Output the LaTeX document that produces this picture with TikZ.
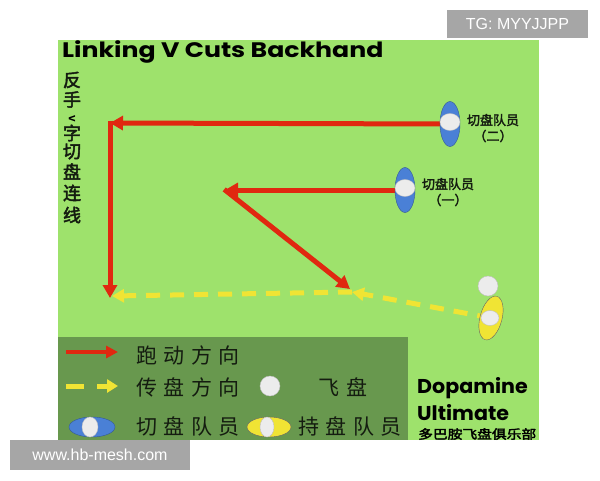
\documentclass[tikz,border=0pt]{standalone}
\usepackage{fontspec}
\setmainfont{Liberation Sans}
\newfontfamily\cjk{Noto Sans CJK SC}
\newfontfamily\cjkb{Noto Sans CJK SC}[FakeBold=2.5]
\newfontfamily\cjksp{Noto Sans CJK SC}[LetterSpace=30]
\newfontfamily\pop{Poppins}
\usetikzlibrary{arrows.meta,shapes.geometric}
\definecolor{field}{RGB}{158,226,108}
\definecolor{legendbg}{RGB}{104,152,78}
\definecolor{runred}{RGB}{224,40,16}
\definecolor{passyel}{RGB}{240,228,52}
\definecolor{cutblue}{RGB}{74,128,214}
\definecolor{discw}{RGB}{236,236,236}
\definecolor{wmgray}{RGB}{166,166,166}
\definecolor{ink}{RGB}{20,28,16}
\begin{document}
\begin{tikzpicture}[x=1pt,y=-1pt,
  run/.style={draw=runred,line width=5pt,-{Triangle[length=13pt,width=14pt]}},
  pass/.style={draw=passyel,line width=5pt,dash pattern=on 14pt off 10pt,-{Triangle[length=12pt,width=13pt]}},
  cutbody/.style={ellipse,draw=cutblue!70!black,line width=0.4pt,fill=cutblue,minimum width=20pt,minimum height=45pt,inner sep=0pt},
  holdbody/.style={ellipse,draw=black!60,line width=0.4pt,fill=passyel,minimum width=22pt,minimum height=45pt,inner sep=0pt},
  whitedisc/.style={ellipse,draw=black!25,line width=0.4pt,fill=discw,inner sep=0pt},
  lbl/.style={font=\cjkb\fontsize{13}{14}\selectfont,text=ink,inner sep=0pt},
  legtxt/.style={font=\cjksp\fontsize{21}{22}\selectfont,text=ink,inner sep=0pt},
  vchar/.style={font=\cjkb\fontsize{18}{18}\selectfont,text=ink,inner sep=0pt},
  wmark/.style={fill=wmgray,text=white,font=\fontsize{16}{18}\selectfont,inner sep=0pt,minimum height=28pt}
]
\useasboundingbox (0,0) rectangle (600,480);
% field and legend
\fill[field] (58,40) rectangle (539,440);
\fill[legendbg] (58,337) rectangle (408,440);
% title
\node[anchor=base west,inner sep=0pt,font=\pop\bfseries\fontsize{21}{22}\selectfont] (title) at (62,57) {\scalebox{1.2}[1]{Linking V Cuts Backhand}};
% vertical title
\node[vchar] (v1) at (72,80) {反};
\node[vchar] (v2) at (72,99.5) {手};
\node[inner sep=0pt,font=\pop\bfseries\fontsize{9}{9}\selectfont] (v3) at (72,119) {\rotatebox{-90}{V}};
\node[vchar] (v4) at (72,133) {字};
\node[vchar] (v5) at (72,151.5) {切};
\node[vchar] (v6) at (72,171.5) {盘};
\node[vchar] (v7) at (72,193) {连};
\node[vchar] (v8) at (72,215) {线};
% key points
\coordinate (c2) at (450,124);
\coordinate (c1) at (405,190);
\coordinate (k2) at (110,123);
\coordinate (e2) at (110,298);
\coordinate (a1) at (225,190);
\coordinate (e1) at (350,289);
\coordinate (h) at (491,318);
\coordinate (m) at (352,292);
\coordinate (p) at (112,296);
% passes
\draw[pass] (h) -- (m);
\draw[pass] (m) -- (p);
% runs
\draw[run] (c2) -- (k2);
\draw[run,shorten <=-2.5pt] (k2) -- (e2);
\draw[run] (c1) -- (a1);
\draw[run,shorten <=-1pt] (a1) -- (e1);
% players
\node[cutbody] (cut2) at (c2) {};
\node[whitedisc,minimum width=20pt,minimum height=17pt] (cut2w) at (450,122) {};
\node[cutbody] (cut1) at (c1) {};
\node[whitedisc,minimum width=20pt,minimum height=17pt] (cut1w) at (405,188) {};
\node[holdbody,rotate=-15] (hold) at (h) {};
\node[whitedisc,minimum width=18pt,minimum height=15pt] (holdw) at (490,318) {};
\node[whitedisc,circle,minimum size=20pt] (disc) at (488,286) {};
% labels
\node[lbl] (l2a) at (493,120) {切盘队员};
\node[lbl] (l2b) at (493,136) {（二）};
\node[lbl] (l1a) at (448,184) {切盘队员};
\node[lbl] (l1b) at (448,200) {（一）};
% legend
\coordinate (r1s) at (66,352);
\coordinate (r1e) at (118,352);
\draw[draw=runred,line width=4.5pt,-{Triangle[length=12pt,width=12pt]}] (r1s) -- (r1e);
\node[legtxt] (t1) at (188,355) {跑动方向};
\coordinate (r2s) at (66,386);
\coordinate (r2m) at (84,386);
\coordinate (r2n) at (97,386);
\coordinate (r2e) at (118,386);
\draw[draw=passyel,line width=5pt] (r2s) -- (r2m);
\draw[draw=passyel,line width=5pt,-{Triangle[length=11pt,width=13pt]}] (r2n) -- (r2e);
\node[legtxt] (t2) at (188,387) {传盘方向};
\node[whitedisc,circle,minimum size=20pt] (ldisc) at (270,386) {};
\node[legtxt] (t3) at (343,387) {飞盘};
\node[cutbody,minimum width=46pt,minimum height=20pt] (lcut) at (92,427) {};
\node[whitedisc,minimum width=16pt,minimum height=20pt] (lcutw) at (90,427) {};
\node[legtxt] (t4) at (188,426) {切盘队员};
\node[holdbody,minimum width=44pt,minimum height=20pt] (lhold) at (269,427) {};
\node[whitedisc,minimum width=14pt,minimum height=20pt] (lholdw) at (267,427) {};
\node[legtxt] (t5) at (350,426) {持盘队员};
% club
\node[anchor=base west,inner sep=0pt,font=\pop\bfseries\fontsize{20}{22}\selectfont] (dop) at (417,393) {\scalebox{1.03}[1]{Dopamine}};
\node[anchor=base west,inner sep=0pt,font=\pop\bfseries\fontsize{20}{22}\selectfont] (ult) at (417,420) {\scalebox{1.03}[1]{Ultimate}};
\node[anchor=west,inner sep=0pt,font=\cjkb\fontsize{12.5}{13}\selectfont] (club) at (418,434) {\scalebox{1.18}[1]{多巴胺飞盘俱乐部}};
% watermarks
\node[wmark,minimum width=141pt] (tg) at (517.5,24) {TG: MYYJJPP};
\node[wmark,minimum width=180pt,minimum height=30pt] (web) at (100,455) {www.hb-mesh.com};
\end{tikzpicture}
\end{document}
